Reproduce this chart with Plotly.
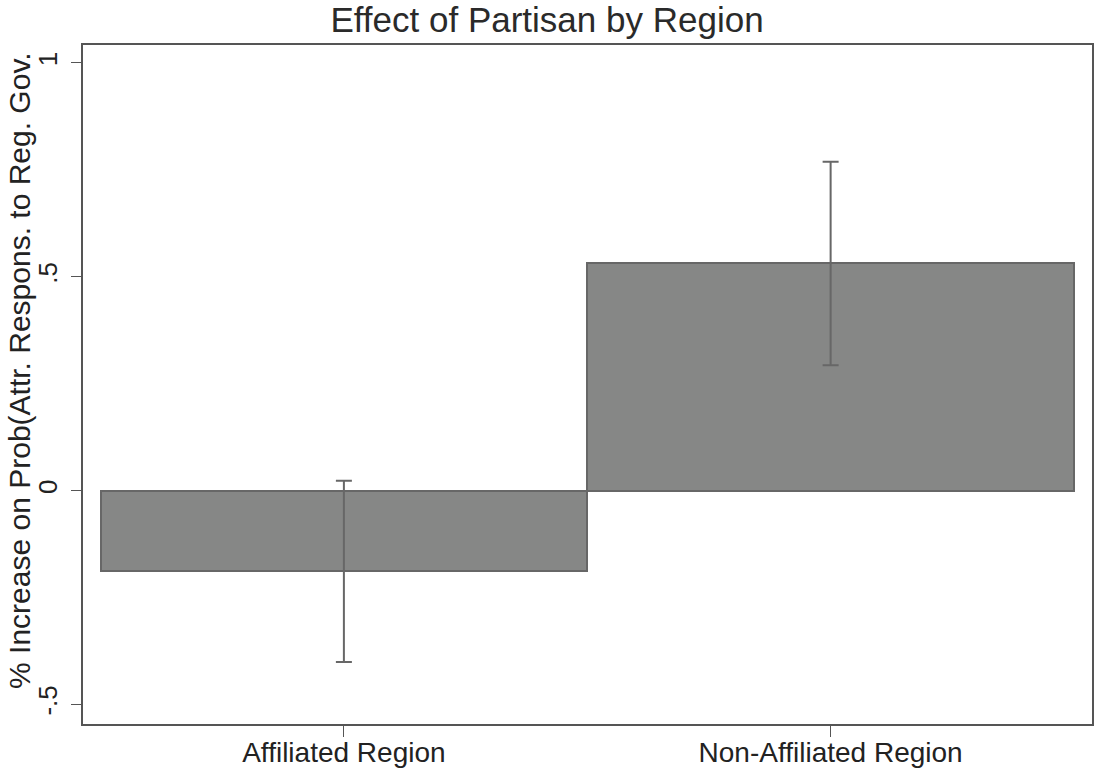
import plotly.graph_objects as go

categories = ["Affiliated Region", "Non-Affiliated Region"]
effects = [-0.189, 0.531]
ci_half = [0.212, 0.238]
ytick_vals = [-0.5, 0, 0.5, 1]
ytick_text = ["-.5", "0", ".5", "1"]

FONT = "Liberation Sans, Arial, Helvetica, sans-serif"
AX = "#555555"

fig = go.Figure()
fig.add_trace(go.Bar(
    x=[0, 1], y=effects, width=1.0,
    marker=dict(color="#868786", line=dict(color="#676767", width=2)),
    error_y=dict(type="data", array=ci_half, symmetric=True,
                 color="#676767", thickness=2, width=8),
    showlegend=False,
))

fig.update_layout(
    width=1094, height=769,
    margin=dict(l=83, r=2, t=45, b=45, autoexpand=False),
    paper_bgcolor="white", plot_bgcolor="white",
    bargap=0,
    font=dict(family=FONT, color="#222222"),
    title=dict(text="Effect of Partisan by Region", x=0.5, xanchor="center",
               y=1 - 20 / 769, yanchor="middle", yref="container",
               font=dict(size=35, color="#2a2a2a", family=FONT)),
    annotations=[dict(
        text="% Increase on Prob(Attr. Respons. to Reg. Gov.",
        xref="paper", yref="paper", x=0, y=0.52, xanchor="center", yanchor="middle",
        xshift=-63, textangle=-90, showarrow=False,
        font=dict(size=30, color="#222222", family=FONT),
    )],
)
fig.update_xaxes(
    range=[-0.536, 1.537], tickmode="array", tickvals=[0, 1], ticktext=categories,
    ticks="outside", ticklen=11, tickwidth=1.2, tickcolor=AX,
    showline=True, linecolor=AX, linewidth=1.5, mirror=True,
    showgrid=False, zeroline=False, automargin=False,
    tickfont=dict(size=28, color="#222222"),
    ticklabelstandoff=-8,
)
fig.update_yaxes(
    range=[-0.546, 1.042], tickmode="array", tickvals=ytick_vals, ticktext=ytick_text,
    tickangle=-90, ticks="outside", ticklen=10, tickwidth=1.2, tickcolor=AX,
    showline=True, linecolor=AX, linewidth=1.5, mirror=True,
    showgrid=False, zeroline=False, automargin=False,
    tickfont=dict(size=26, color="#222222"),
    ticklabelstandoff=4,
)

fig.write_html("out.html", config={"displayModeBar": False},
               post_script="document.body.style.margin='0';")
